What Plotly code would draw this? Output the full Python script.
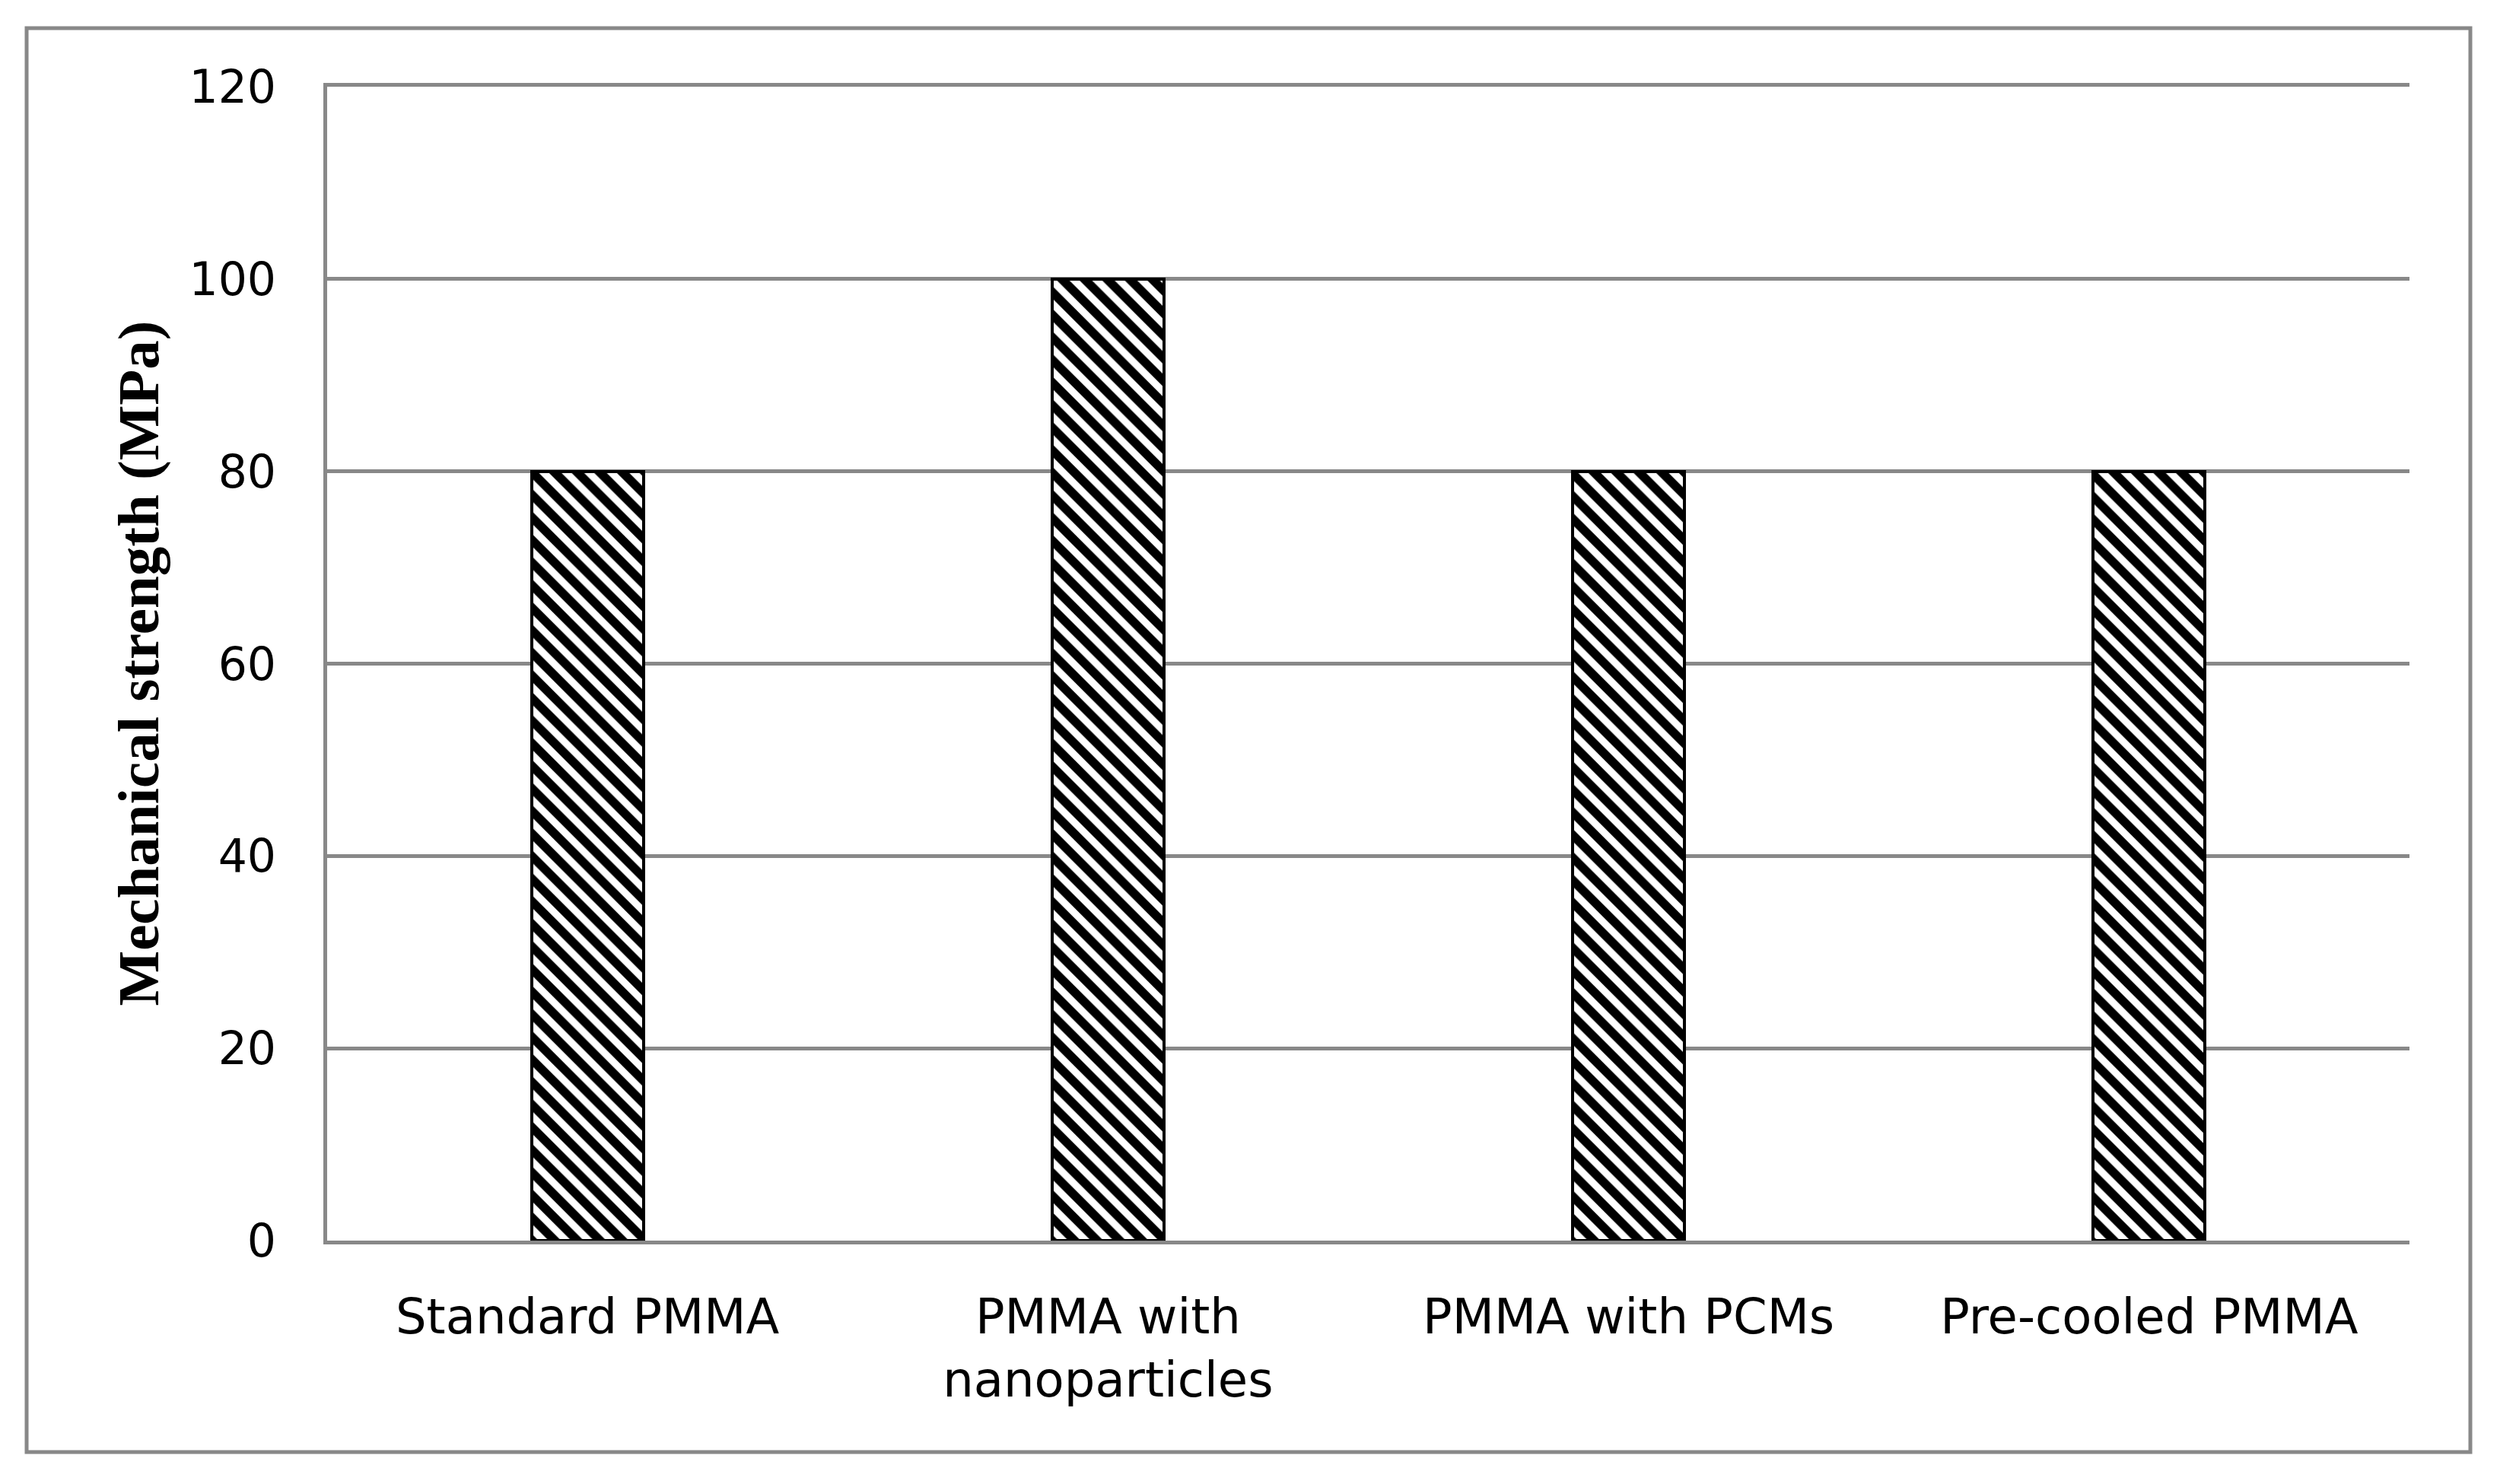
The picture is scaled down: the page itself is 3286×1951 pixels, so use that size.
import plotly.graph_objects as go

categories = ["Standard PMMA", "PMMA with<br>nanoparticles", "PMMA with PCMs", "Pre-cooled PMMA"]
strength = [80, 100, 80, 80]
y_ticks = [0, 20, 40, 60, 80, 100, 120]

# page body has an 8px default margin; size the figure to fit the window
OFF = 8
W, H = 3286 - OFF, 1951 - OFF
ml, mr, mt, mb = 430 - OFF, 119, 114 - OFF, 320
pw = W - ml - mr
ph = H - mt - mb

def px_x(x):
    return (x - OFF - ml) / pw

def px_y(y):
    return (H - mb - (y - OFF)) / ph

grid = "#888888"

fig = go.Figure()
fig.add_trace(go.Bar(
    x=categories, y=strength, width=0.215,
    marker=dict(
        color="white",
        line=dict(color="black", width=4),
        pattern=dict(shape="\\", fillmode="replace", fgcolor="black", fgopacity=1,
                     bgcolor="white", size=21, solidity=0.55),
    ),
    showlegend=False,
))

fig.update_layout(
    width=W, height=H,
    margin=dict(l=ml, r=mr, t=mt, b=mb),
    paper_bgcolor="white", plot_bgcolor="white",
    font=dict(family="DejaVu Sans", color="black"),
    bargap=0.0,
)
fig.update_yaxes(
    range=[0, 120], tickvals=y_ticks, ticktext=[str(v) for v in y_ticks],
    showgrid=True, gridcolor=grid, gridwidth=5,
    showline=True, linecolor=grid, linewidth=5,
    zeroline=False, ticks="", ticklabelstandoff=50,
    tickfont=dict(size=60, family="DejaVu Sans", color="black"),
)
fig.update_xaxes(
    showgrid=False, showline=True, linecolor=grid, linewidth=5, mirror=True,
    ticks="", ticklabelstandoff=40,
    tickfont=dict(size=64, family="DejaVu Sans", color="black"),
)

fig.add_annotation(
    text="<b>Mechanical strength (MPa)</b>", textangle=-90,
    xref="paper", yref="paper", x=px_x(181), y=0.5,
    xanchor="center", yanchor="middle", showarrow=False,
    font=dict(family="Liberation Serif", size=77, color="black"),
)

fig.add_shape(
    type="rect", xref="paper", yref="paper",
    x0=px_x(35), x1=px_x(3247), y0=px_y(37), y1=px_y(1909),
    line=dict(color=grid, width=5), fillcolor="rgba(0,0,0,0)", layer="below",
)

fig.write_html("out.html")
